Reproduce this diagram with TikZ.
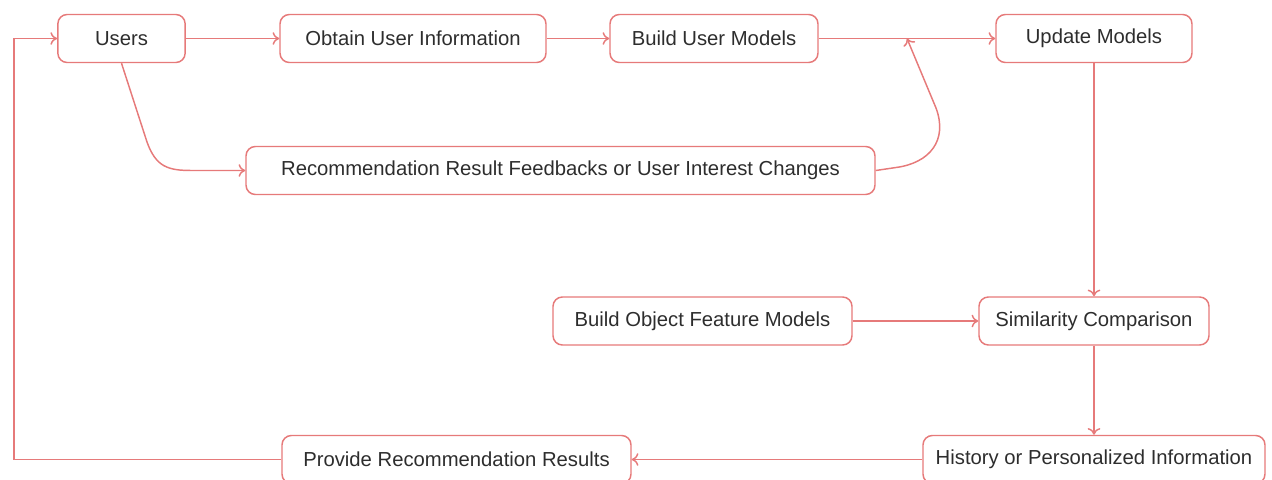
\documentclass[tikz,border=0pt]{standalone}
\usepackage{fontspec}
\setmainfont{Liberation Sans}
\usetikzlibrary{arrows.meta}
\definecolor{salmon}{RGB}{230,122,122}
\definecolor{ink}{RGB}{45,45,45}
\tikzset{
  box/.style={draw=salmon, line width=1.1pt, rounded corners=7pt, text=ink,
    font=\fontsize{15.2}{18}\selectfont, inner sep=0pt, minimum height=36pt},
  link/.style={draw=salmon, line width=1.1pt, ->},
}
\begin{document}
\begin{tikzpicture}[x=0.75pt,y=-0.75pt,>={To[length=5pt,width=9.5pt]}]
   \useasboundingbox (0,0) rectangle (1272,479);
   \clip (0,0) rectangle (1272,479);

   % top row
   \node[box, minimum width=95.5pt] (users) at (121.5,38.5) {Users};
   \node[box, minimum width=199.5pt] (obtain) at (413,38.5) {Obtain User Information};
   \node[box, minimum width=156pt] (buildUser) at (714,38.5) {Build User Models};
   \node[box, minimum width=147pt] (update) at (1094,38.5) {Update Models};
   \node[box, minimum width=471.75pt] (feedback) at (560.5,170.5) {Recommendation Result Feedbacks or User Interest Changes};

   % middle and bottom
   \node[box, minimum width=224.25pt] (buildObj) at (702.5,321) {Build Object Feature Models};
   \node[box, minimum width=172.5pt] (similar) at (1094,321) {Similarity Comparison};
   \node[box, minimum width=256.5pt] (history) at (1094,459.5) {History or Personalized Information};
   \node[box, minimum width=261.75pt] (provide) at (456.5,459.5) {Provide Recommendation Results};

   \coordinate (join) at (907,38.5);
   \coordinate (loop) at (14,38.5);

   % flow
   \draw[link] (users) -- (obtain);
   \draw[link] (obtain) -- (buildUser);
   \draw[link] (buildUser) -- (update);
   \draw[link] (users.south) -- (147,142) .. controls (156,167) and (168,170.5) .. (192,170.5) -- (feedback.west);
   \draw[link] (feedback.east) -- (896,167.5) .. controls (930,163) and (948,140) .. (936,108) -- (join);
   \draw[link] (update) -- (similar);
   \draw[link] (buildObj) -- (similar);
   \draw[link] (similar) -- (history);
   \draw[link] (history) -- (provide);
   % back to users
   \draw[link] (provide.west) -| (loop) -- (users.west);

\end{tikzpicture}
\end{document}
